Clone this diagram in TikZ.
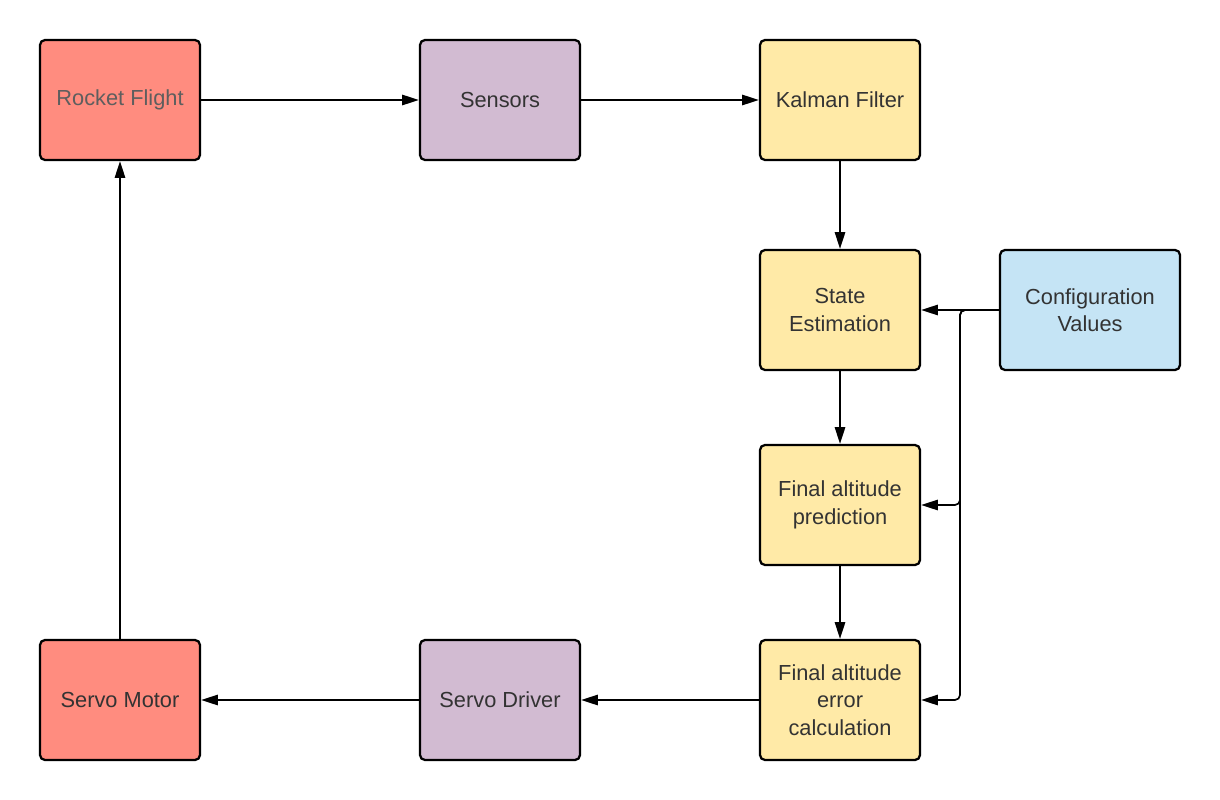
\documentclass[tikz,border=0pt]{standalone}
\usepackage{fontspec}
\setmainfont{Liberation Sans}
\usetikzlibrary{arrows.meta}
\definecolor{cred}{HTML}{FF8C7F}
\definecolor{cpurple}{HTML}{D2BBD2}
\definecolor{cyellow}{HTML}{FFEAA7}
\definecolor{cblue}{HTML}{C5E4F5}
\definecolor{ctext}{HTML}{333333}
\definecolor{cgray}{HTML}{5E5E5E}
\begin{document}
\begin{tikzpicture}[x=0.025cm,y=-0.025cm,
  box/.style={draw=black,line width=1.6pt,rounded corners=5*0.025cm,minimum width=160*0.025cm,minimum height=120*0.025cm,align=center,text=ctext,font=\fontsize{15.5}{19.5}\selectfont,inner sep=0pt},
  conn/.style={line width=1.2pt,-{Triangle[length=0.42cm,width=0.26cm]}}]
\useasboundingbox (0,0) rectangle (1220,800);
\node[box,fill=cred,text=cgray] (rf) at (120,100) {Rocket Flight};
\node[box,fill=cpurple] (sen) at (500,100) {Sensors};
\node[box,fill=cyellow] (kf) at (840,100) {Kalman Filter};
\node[box,fill=cyellow] (se) at (840,310) {State\\Estimation};
\node[box,fill=cblue,minimum width=180*0.025cm] (cv) at (1090,310) {Configuration\\Values};
\node[box,fill=cyellow,minimum height=120*0.025cm] (fap) at (840,505) {Final altitude\\prediction};
\node[box,fill=cyellow] (fae) at (840,700) {Final altitude\\error\\calculation};
\node[box,fill=cpurple] (sd) at (500,700) {Servo Driver};
\node[box,fill=cred] (sm) at (120,700) {Servo Motor};
\coordinate (br) at (960,310);
\draw[conn] (rf) -- (sen);
\draw[conn] (sen) -- (kf);
\draw[conn] (kf) -- (se);
\draw[conn] (se) -- (fap);
\draw[conn] (fap) -- (fae);
\draw[conn] (fae) -- (sd);
\draw[conn] (sd) -- (sm);
\draw[conn] (sm) -- (rf);
\draw[conn] (cv) -- (se);
\draw[conn,rounded corners=5*0.025cm] (cv.west) -- (br) |- (fap.east);
\draw[conn,rounded corners=5*0.025cm] (cv.west) -- (br) |- (fae.east);
\end{tikzpicture}
\end{document}
